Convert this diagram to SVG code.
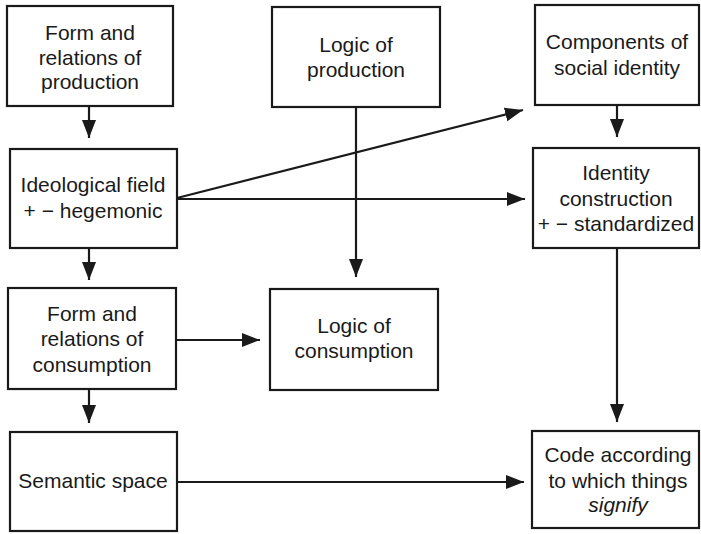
<svg xmlns="http://www.w3.org/2000/svg" width="701" height="534" viewBox="0 0 701 534">
<style>
.box{fill:#fff;stroke:#1a1a1a;stroke-width:2.2}
.t{font-family:"Liberation Sans",Arial,sans-serif;font-size:21px;fill:#1a1a1a;text-anchor:middle}
.c{stroke:#1a1a1a;stroke-width:2.2;fill:none;marker-end:url(#ah)}
</style>
<defs>
<marker id="ah" markerUnits="userSpaceOnUse" markerWidth="20" markerHeight="16" refX="18" refY="7" orient="auto">
<path d="M0,0 L18,7 L0,14 z" fill="#1a1a1a"/>
</marker>
</defs>
<rect width="701" height="534" fill="#fff"/>
<g id="connectors">
<line class="c" x1="89" y1="106" x2="89" y2="138"/>
<line class="c" x1="177" y1="198" x2="523" y2="110"/>
<line class="c" x1="177" y1="199" x2="525" y2="199"/>
<line class="c" x1="356" y1="107" x2="356" y2="277"/>
<line class="c" x1="617" y1="105" x2="617" y2="137"/>
<line class="c" x1="617" y1="248" x2="617" y2="422"/>
<line class="c" x1="89" y1="248" x2="89" y2="280"/>
<line class="c" x1="176" y1="340" x2="260" y2="340"/>
<line class="c" x1="89" y1="389" x2="89" y2="423"/>
<line class="c" x1="177" y1="482" x2="524" y2="482"/>
</g>
<g id="form-production">
<rect class="box" x="7" y="6" width="166" height="100"/>
<text class="t" x="90" y="40">Form and</text>
<text class="t" x="90" y="65">relations of</text>
<text class="t" x="90" y="89">production</text>
</g>
<g id="logic-production">
<rect class="box" x="272" y="7" width="168" height="100"/>
<text class="t" x="356" y="52">Logic of</text>
<text class="t" x="356" y="77">production</text>
</g>
<g id="components-identity">
<rect class="box" x="535" y="5" width="164" height="100"/>
<text class="t" x="617" y="49">Components of</text>
<text class="t" x="617" y="75">social identity</text>
</g>
<g id="ideological-field">
<rect class="box" x="10" y="149" width="167" height="99"/>
<text class="t" x="93" y="192">Ideological field</text>
<text class="t" x="93" y="218">+ − hegemonic</text>
</g>
<g id="identity-construction">
<rect class="box" x="533" y="148" width="166" height="100"/>
<text class="t" x="616" y="180">Identity</text>
<text class="t" x="616" y="206">construction</text>
<text class="t" x="616" y="231">+ − standardized</text>
</g>
<g id="form-consumption">
<rect class="box" x="8" y="288" width="168" height="101"/>
<text class="t" x="92" y="321">Form and</text>
<text class="t" x="92" y="346">relations of</text>
<text class="t" x="92" y="372">consumption</text>
</g>
<g id="logic-consumption">
<rect class="box" x="270" y="289" width="168" height="101"/>
<text class="t" x="354" y="333">Logic of</text>
<text class="t" x="354" y="358">consumption</text>
</g>
<g id="semantic-space">
<rect class="box" x="10" y="432" width="167" height="99"/>
<text class="t" x="93" y="488">Semantic space</text>
</g>
<g id="code">
<rect class="box" x="532" y="431" width="167" height="97"/>
<text class="t" x="618" y="462">Code according</text>
<text class="t" x="618" y="488">to which things</text>
<text class="t" x="618" y="512" font-style="italic">signify</text>
</g>
</svg>
